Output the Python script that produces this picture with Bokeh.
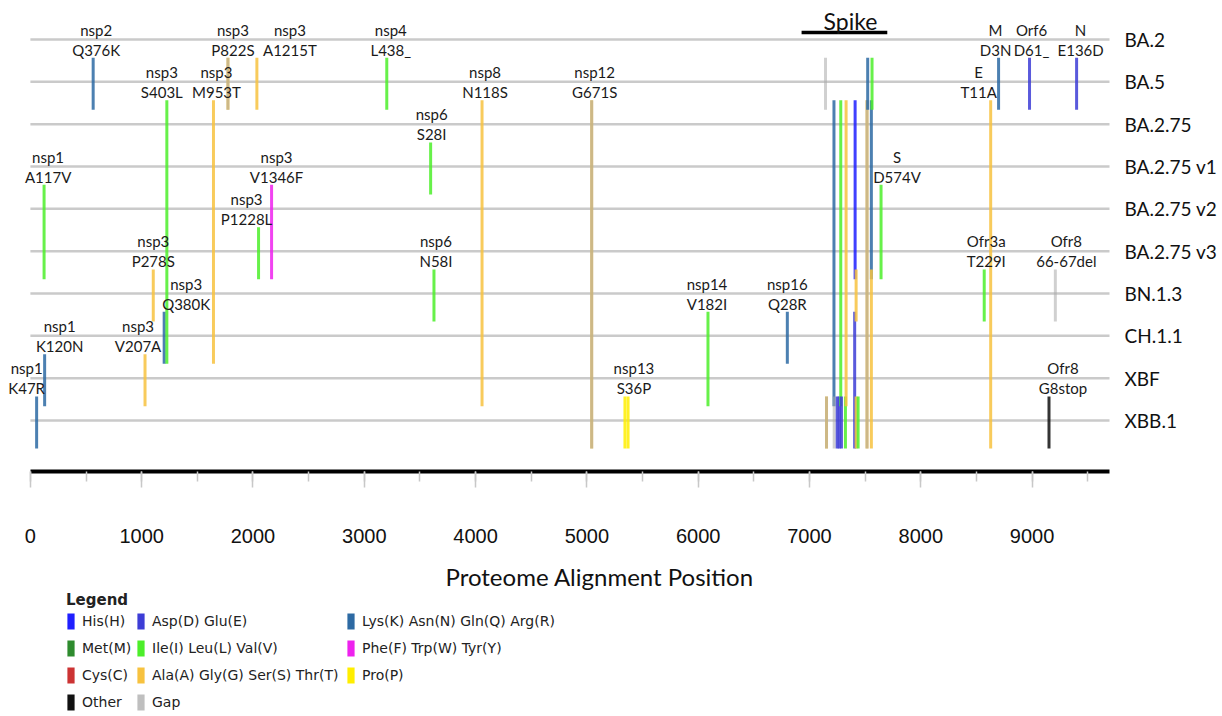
from bokeh.plotting import figure
from bokeh.models import (Range1d, ColumnDataSource, FixedTicker, SingleIntervalTicker,
                          Legend, LegendItem, Title)
from bokeh.layouts import column
from bokeh.embed import file_html
from bokeh.resources import INLINE
from bokeh.core.properties import value

# ---------------- data ----------------
variants = ["BA.2", "BA.5", "BA.2.75", "BA.2.75 v1", "BA.2.75 v2", "BA.2.75 v3",
            "BN.1.3", "CH.1.1", "XBF", "XBB.1"]

mut_protein = ["nsp1", "nsp1", "nsp1", "nsp2", "nsp3", "nsp3", "nsp3", "nsp3", "nsp3", "nsp3",
               "nsp3", "nsp3", "nsp3", "nsp3", "nsp4", "nsp6", "nsp6", "nsp8", "nsp12", "nsp12",
               "nsp13", "nsp13", "nsp14", "nsp16",
               "S", "S", "S", "S", "S", "S", "S", "S", "S", "S", "S", "S", "S", "S", "S", "S",
               "S", "S", "S", "S", "S", "S", "S",
               "Ofr3a", "E", "M", "Orf6", "Ofr8", "Ofr8", "N"]
mut_change = ["K47R", "A117V", "K120N", "Q376K", "V207A", "P278S", "Q380K", "S403L", "M953T", "P822S",
              "", "A1215T", "P1228L", "V1346F", "L438_", "S28I", "N58I", "N118S", "G671S", "",
              "S36P", "", "V182I", "Q28R",
              "", "", "", "", "", "", "", "", "", "", "", "", "", "", "", "",
              "", "", "", "", "", "", "D574V",
              "T229I", "T11A", "D3N", "D61_", "G8stop", "66-67del", "E136D"]
mut_position = [56, 123, 128, 564, 1030, 1104, 1202, 1226, 1645, 1775,
                1775, 2035, 2050, 2167, 3202, 3596, 3626, 4058, 5043, 5043,
                5342, 5370, 6088, 6801,
                7144, 7153, 7153, 7220, 7222, 7249, 7267, 7281, 7287, 7323, 7329, 7406, 7410, 7419,
                7419, 7437, 7517, 7517, 7523, 7556, 7556, 7562, 7643,
                8570, 8628, 8699, 8977, 9152, 9209, 9400]
mut_first = ["XBB.1", "BA.2.75 v2", "XBF", "BA.5", "XBF", "BN.1.3", "CH.1.1", "BA.2.75", "BA.2.75", "BA.5",
             "BA.5", "BA.5", "BA.2.75 v3", "BA.2.75 v2", "BA.5", "BA.2.75 v1", "BN.1.3", "BA.2.75", "BA.2.75", "BA.2.75",
             "XBB.1", "XBB.1", "CH.1.1", "CH.1.1",
             "BA.5", "XBB.1", "XBB.1", "BA.2.75", "XBB.1", "XBB.1", "XBB.1", "BA.2.75", "XBB.1", "XBB.1",
             "BA.2.75", "CH.1.1", "BA.2.75", "BN.1.3", "XBB.1", "XBB.1", "BA.2.75", "BA.2.75", "BA.5",
             "BA.2.75", "BN.1.3", "BA.5", "BA.2.75 v2",
             "BN.1.3", "BA.2.75", "BA.5", "BA.5", "XBB.1", "BN.1.3", "BA.5"]
mut_last = ["XBB.1", "BA.2.75 v3", "XBF", "BA.5", "XBF", "BN.1.3", "CH.1.1", "CH.1.1", "CH.1.1", "BA.5",
            "BA.5", "BA.5", "BA.2.75 v3", "BA.2.75 v3", "BA.5", "BA.2.75 v1", "BN.1.3", "XBF", "XBB.1", "XBB.1",
            "XBB.1", "XBB.1", "XBF", "CH.1.1",
            "BA.5", "XBB.1", "XBB.1", "XBF", "XBB.1", "XBB.1", "XBB.1", "XBF", "XBB.1", "XBB.1",
            "XBF", "XBB.1", "BA.2.75 v3", "BN.1.3", "XBB.1", "XBB.1", "XBB.1", "XBB.1", "BA.5",
            "BA.2.75 v3", "XBB.1", "BA.5", "BA.2.75 v3",
            "BN.1.3", "XBB.1", "BA.5", "BA.5", "XBB.1", "BN.1.3", "BA.5"]
mut_group = ["KNQR", "ILV", "KNQR", "KNQR", "AGST", "AGST", "KNQR", "ILV", "AGST", "AGST",
             "Gap", "AGST", "ILV", "FWY", "ILV", "ILV", "ILV", "AGST", "AGST", "Gap",
             "P", "P", "ILV", "KNQR",
             "Gap", "AGST", "Gap", "KNQR", "Gap", "DE", "DE", "ILV", "DE", "ILV", "AGST", "DE", "H", "AGST",
             "AGST", "ILV", "AGST", "Gap", "KNQR", "KNQR", "AGST", "ILV", "ILV",
             "ILV", "AGST", "KNQR", "DE", "Other", "Gap", "DE"]

spike_region = [6929, 7699]
axis_max = 9700

legend_groups = ["H", "M", "C", "Other", "DE", "ILV", "AGST", "Gap", "KNQR", "FWY", "P"]
legend_labels = ["His(H)", "Met(M)", "Cys(C)", "Other",
                 "Asp(D) Glu(E)", "Ile(I) Leu(L) Val(V)", "Ala(A) Gly(G) Ser(S) Thr(T)", "Gap",
                 "Lys(K) Asn(N) Gln(Q) Arg(R)", "Phe(F) Trp(W) Tyr(Y)", "Pro(P)"]

# ---------------- styles / layout ----------------
GROUP_COLOR = {"H": "#1f1fff", "DE": "#3d3dd6", "KNQR": "#2d6aa3", "M": "#2e8b2e",
               "ILV": "#4cee2a", "FWY": "#ee22ee", "C": "#cc3333", "AGST": "#f7c23f",
               "P": "#ffee00", "Other": "#111111", "Gap": "#aaaaaa"}
LINE_ALPHA = {"Gap": 0.55}
LEGEND_ALPHA = {"Gap": 0.75}
LABEL_DX = {"K47R": -10, "A117V": 4, "K120N": 15, "Q376K": 3, "V207A": -7, "P278S": 0,
            "Q380K": 22, "S403L": -5, "M953T": 3, "P822S": 5, "A1215T": 33, "P1228L": -12,
            "V1346F": 5, "L438_": 4, "S28I": 1, "N58I": 2, "N118S": 3, "G671S": 3, "S36P": 9,
            "V182I": -1, "Q28R": 0, "D574V": 16, "T229I": 2, "T11A": -12, "D3N": -3,
            "D61_": 2, "G8stop": 14, "66-67del": 11, "E136D": 4}

W = 1220
H_MAIN = 556
H_LEG = 158
LEG_FRAME_TOP = 34
ROW_PX = 42.33
UNIT_PX = 0.1117
FRAME_BOTTOM = 471
FRAME_RIGHT = 1113
X0_PX = 30
ROW0_PX = 39
TOP_EXT = 24 / ROW_PX
BOT_EXT = 28 / ROW_PX

x_start = -X0_PX / UNIT_PX
x_end = x_start + FRAME_RIGHT / UNIT_PX
y_top = -ROW0_PX / ROW_PX
y_bottom = (FRAME_BOTTOM - ROW0_PX) / ROW_PX

row_of = {v: i for i, v in enumerate(variants)}

p = figure(width=W, height=H_MAIN, x_range=Range1d(x_start, x_end),
           y_range=Range1d(y_bottom, y_top), output_backend="svg", toolbar_location=None,
           y_axis_location="right", min_border_left=0, min_border_right=W - FRAME_RIGHT,
           min_border_top=0, min_border_bottom=H_MAIN - FRAME_BOTTOM)
p.xgrid.visible = False
p.ygrid.visible = False
p.outline_line_color = None

# row lines
rows_idx = list(range(len(variants)))
p.segment(x0=[0] * len(rows_idx), x1=[axis_max] * len(rows_idx), y0=rows_idx, y1=rows_idx,
          line_color="#cacaca", line_width=2.5)

# mutation lines
src = ColumnDataSource(dict(
    x=mut_position,
    y0=[row_of[f] - TOP_EXT for f in mut_first],
    y1=[row_of[l] + BOT_EXT for l in mut_last],
    color=[GROUP_COLOR[g] for g in mut_group],
    alpha=[LINE_ALPHA.get(g, 0.85) for g in mut_group],
))
p.segment(x0="x", x1="x", y0="y0", y1="y1", source=src, line_color="color",
          line_alpha="alpha", line_width=3)

# labels
lab_x, lab_y, lab_p, lab_c, lab_dx = [], [], [], [], []
for prot, ch, pos, f in zip(mut_protein, mut_change, mut_position, mut_first):
    if ch:
        lab_x.append(pos)
        lab_y.append(row_of[f] - TOP_EXT)
        lab_p.append(prot)
        lab_c.append(ch)
        lab_dx.append(LABEL_DX.get(ch, 0))
lsrc = ColumnDataSource(dict(x=lab_x, y=lab_y, prot=lab_p, ch=lab_c, dx=lab_dx))
common = dict(source=lsrc, text_align="center", text_baseline="middle",
              text_font=value("Lato"), text_font_size="15px", text_color="#1a1a1a",
              x_offset="dx")
p.text(x="x", y="y", text="ch", y_offset=-8, **common)
p.text(x="x", y="y", text="prot", y_offset=-28, **common)

# spike bracket
p.segment(x0=[spike_region[0]], x1=[spike_region[1]], y0=[-7 / ROW_PX], y1=[-7 / ROW_PX],
          line_color="black", line_width=3.5)
p.text(x=[(spike_region[0] + spike_region[1]) / 2], y=[-7 / ROW_PX], text=["Spike"],
       x_offset=6, y_offset=-12, text_align="center", text_baseline="middle",
       text_font=value("Lato"), text_font_size="23px", text_color="#111111")

# x axis
xa = p.xaxis[0]
xa.ticker = SingleIntervalTicker(interval=1000, num_minor_ticks=2)
xa.bounds = (0, axis_max)
xa.axis_line_color = "black"
xa.axis_line_width = 4
xa.major_tick_line_color = "#c8c8c8"
xa.minor_tick_line_color = "#c8c8c8"
xa.major_tick_line_width = 1.5
xa.minor_tick_line_width = 1.5
xa.major_tick_in = 0
xa.major_tick_out = 16
xa.minor_tick_in = 0
xa.minor_tick_out = 10
xa.major_label_text_font = "Liberation Sans"
xa.major_label_text_font_size = "20px"
xa.major_label_text_color = "#111111"
xa.major_label_standoff = 41

# y axis (right) with variant names
ya = p.yaxis[0]
ya.ticker = FixedTicker(ticks=rows_idx)
ya.major_label_overrides = {i: v for i, v in enumerate(variants)}
ya.axis_line_color = None
ya.major_tick_line_color = None
ya.minor_tick_line_color = None
ya.major_label_standoff = 9
ya.major_label_text_font = "Lato"
ya.major_label_text_font_size = "19px"
ya.major_label_text_color = "#111111"

# ---------------- axis title + legend figure ----------------
lp = figure(width=W, height=H_LEG, x_range=Range1d(0, 1), y_range=Range1d(0, 1),
            output_backend="svg", toolbar_location=None, min_border_left=0,
            min_border_right=0, min_border_bottom=0, min_border_top=LEG_FRAME_TOP,
            x_axis_location=None, y_axis_location=None)
lp.outline_line_color = None
lp.grid.visible = False
lp.add_layout(Title(text="Proteome Alignment Position", align="left", offset=445,
                    text_font="Lato", text_font_size="24px", text_font_style="normal",
                    text_color="#111111", standoff=0), "above")

items = []
for g, lab in zip(legend_groups, legend_labels):
    r = lp.quad(left=[5], right=[6], bottom=[5], top=[6], fill_color=GROUP_COLOR[g],
                fill_alpha=LEGEND_ALPHA.get(g, 1.0), line_color=None)
    items.append(LegendItem(label=lab, renderers=[r]))

LEG_VY = 2
PITCH = 27
leg_style = dict(padding=0, margin=0, spacing=7, glyph_width=9, glyph_height=20,
                 label_height=20, label_standoff=7, label_text_font="DejaVu Sans",
                 label_text_font_size="14px", label_text_color="#222222",
                 border_line_color=None, background_fill_alpha=0, orientation="vertical")
lega = Legend(items=items[0:4], location=(66, LEG_VY), title="Legend",
              title_text_font="DejaVu Sans", title_text_font_size="15px",
              title_text_font_style="bold", title_standoff=2,
              title_text_color="#222222", **leg_style)
legb = Legend(items=items[4:8], location=(136, LEG_VY), **leg_style)
legc = Legend(items=items[8:11], location=(346, LEG_VY + PITCH), **leg_style)
for lg in (lega, legb, legc):
    lp.add_layout(lg, "center")

layout = column(p, lp, spacing=0)
open("out.html", "w").write(file_html(layout, INLINE))
